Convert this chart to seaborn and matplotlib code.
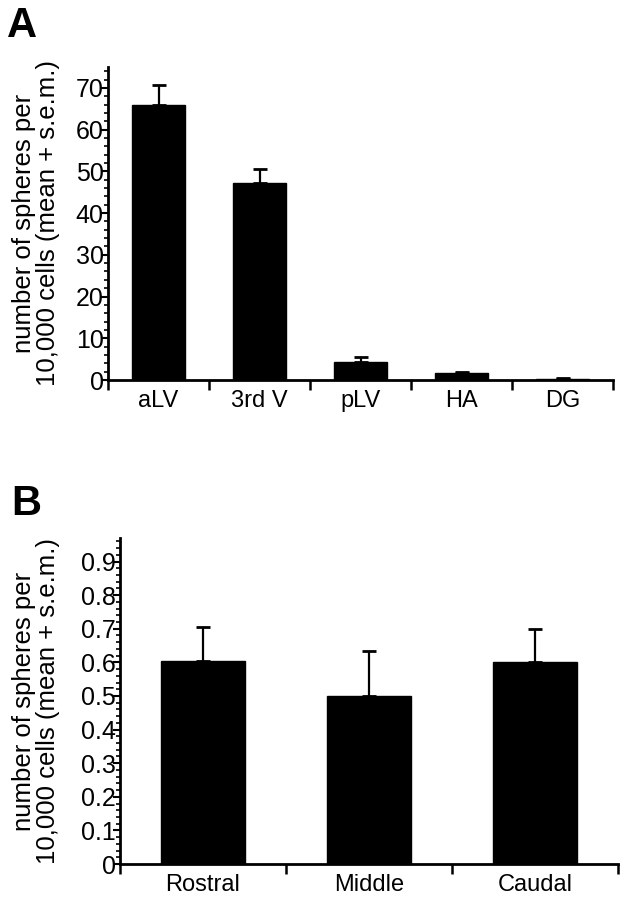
import matplotlib
matplotlib.use("Agg")
import matplotlib.pyplot as plt
import seaborn as sns
import numpy as np
import pandas as pd
from matplotlib.ticker import MultipleLocator, FixedLocator

# Data
regions_a = ["aLV", "3rd V", "pLV", "HA", "DG"]
means_a = [66.0, 47.3, 4.4, 1.6, 0.3]
sem_a = [4.7, 3.2, 1.0, 0.4, 0.1]

regions_b = ["Rostral", "Middle", "Caudal"]
means_b = [0.605, 0.50, 0.60]
sem_b = [0.10, 0.133, 0.10]

ylabel = "number of spheres per\n10,000 cells (mean + s.e.m.)"

sns.set_theme(style="ticks")
plt.rcParams["font.family"] = ["Liberation Sans", "DejaVu Sans"]
plt.rcParams.update({"text.color": "black", "axes.labelcolor": "black",
                     "xtick.color": "black", "ytick.color": "black",
                     "axes.edgecolor": "black"})

fig = plt.figure(figsize=(6.24, 8.99), dpi=100)
W, H = 624, 899

def add_axes(left, right, top, bottom):
    return fig.add_axes([left / W, 1 - bottom / H, (right - left) / W, (bottom - top) / H])

axA = add_axes(108, 613, 67, 380)
axB = add_axes(120, 618, 538, 864)

def draw(ax, cats, means, sems, width, ymax, major, minor, fmt, label_x_px, ax_left_px, ax_w_px):
    df = pd.DataFrame({"cat": cats, "val": means})
    sns.barplot(data=df, x="cat", y="val", color="black", width=width,
                errorbar=None, ax=ax, saturation=1)
    for p in ax.patches:
        p.set_edgecolor("black")
    x = np.arange(len(cats))
    ax.errorbar(x, means, yerr=[np.zeros(len(sems)), sems], fmt="none",
                ecolor="black", elinewidth=1.6, capsize=5, capthick=2.0)
    ax.set_xlim(-0.5, len(cats) - 0.5)
    ax.set_ylim(0, ymax)
    ax.set_xlabel("")
    ax.set_ylabel(ylabel, fontsize=18.5, linespacing=1.0, color="black")
    ax.yaxis.set_label_coords((label_x_px - ax_left_px) / ax_w_px, 0.5)
    sns.despine(ax=ax)
    for s in ["left", "bottom"]:
        ax.spines[s].set_linewidth(2.0)
        ax.spines[s].set_color("black")
    ax.yaxis.set_major_locator(MultipleLocator(major))
    ax.yaxis.set_minor_locator(MultipleLocator(minor))
    ax.yaxis.set_major_formatter(fmt)
    ax.tick_params(axis="y", which="major", direction="out", length=5, width=1.5,
                   labelsize=18, pad=-2, colors="black")
    ax.tick_params(axis="y", which="minor", direction="out", length=3, width=1.2, colors="black")
    ax.xaxis.set_minor_locator(FixedLocator(np.arange(-0.5, len(cats), 1.0)))
    ax.tick_params(axis="x", which="major", length=0, labelsize=17, pad=7, colors="black")
    ax.tick_params(axis="x", which="minor", direction="out", length=7, width=1.8, colors="black")

def fmtA(v, pos):
    return f"{v:.0f}"

def fmtB(v, pos):
    return "0" if abs(v) < 1e-9 else f"{v:.1f}"

draw(axA, regions_a, means_a, sem_a, 0.53, 75, 10, 2, fmtA, 60, 108, 505)
draw(axB, regions_b, means_b, sem_b, 0.51, 0.97, 0.1, 0.02, fmtB, 60, 120, 498)

fig.text(7 / W, 1 - 37 / H, "A", fontsize=30, fontweight="bold", va="baseline", color="black")
fig.text(11 / W, 1 - 515 / H, "B", fontsize=30, fontweight="bold", va="baseline", color="black")

fig.savefig("out.png", dpi=100)
